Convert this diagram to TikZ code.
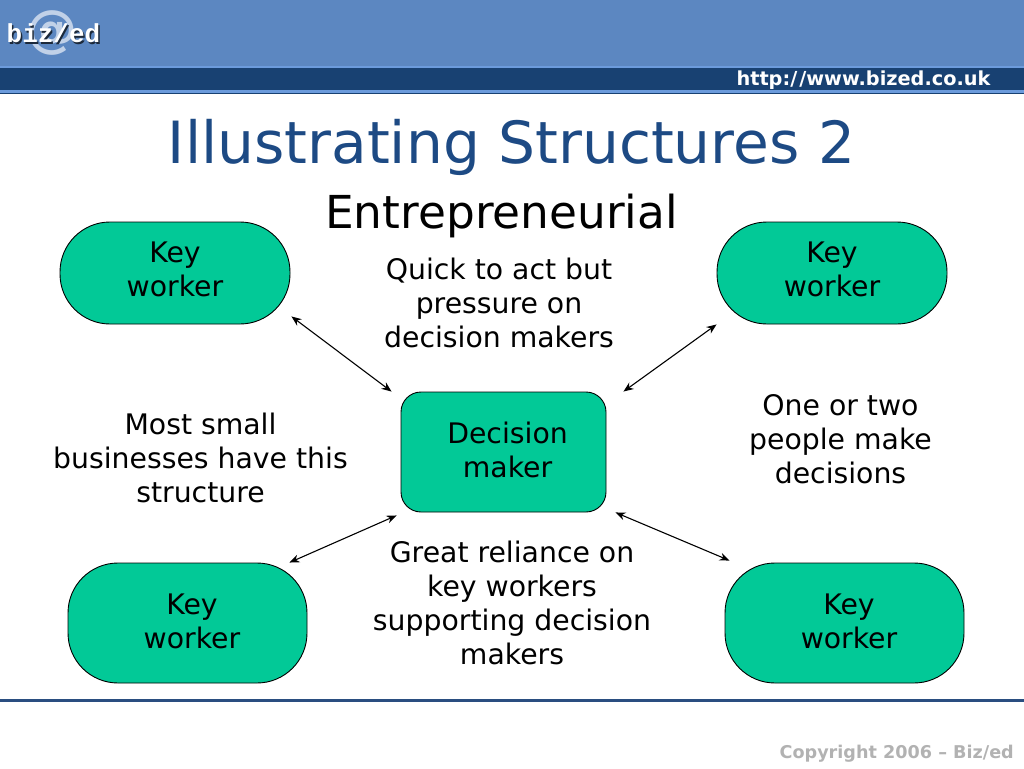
\documentclass[tikz,border=0pt]{standalone}
\usepackage{fontspec}
\setmainfont{DejaVu Sans}
\newfontfamily\logofont{Liberation Mono}
\usetikzlibrary{arrows.meta}
\definecolor{headblue}{HTML}{5C87C1}
\definecolor{headdark}{HTML}{184172}
\definecolor{headline}{HTML}{6C9BDC}
\definecolor{titleblue}{HTML}{1D4A84}
\definecolor{rulecol}{HTML}{2A4E80}
\definecolor{nodegreen}{HTML}{02C997}
\tikzset{
  x=1pt,y=-1pt,
  kwbox/.style={draw=black,fill=nodegreen,line width=0.9pt,rounded corners=50pt,inner sep=0pt},
  dmbox/.style={draw=black,fill=nodegreen,line width=0.9pt,rounded corners=20pt,inner sep=0pt},
  body/.style={align=center,font=\fontsize{28.3}{34}\selectfont,text=black,inner sep=0pt},
  arr/.style={{Stealth[length=10pt,width=8pt]}-{Stealth[length=10pt,width=8pt]},line width=1.1pt,black}
}
\begin{document}
\begin{tikzpicture}
\useasboundingbox (0,0) rectangle (1024,768);
\fill[white] (0,0) rectangle (1024,768);
% header
\fill[headblue] (0,0) rectangle (1024,66);
\fill[headline] (0,66) rectangle (1024,68);
\fill[headdark] (0,68) rectangle (1024,90);
\fill[headline] (0,90) rectangle (1024,92.5);
\fill[headdark] (0,92.5) rectangle (1024,94);
\node[font=\fontsize{51}{51}\selectfont\bfseries,text=white!62!headblue,inner sep=0pt] (at) at (52.5,33) {@};
\node[font=\logofont\bfseries\fontsize{26}{26}\selectfont,text=black!70!headblue,inner sep=0pt] (logoshadow) at (55,35) {biz/ed};
\node[font=\logofont\bfseries\fontsize{26}{26}\selectfont,text=white,inner sep=0pt] (logo) at (53.5,33) {biz/ed};
\node[font=\bfseries\fontsize{19.3}{20}\selectfont,text=white,inner sep=0pt] (url) at (863.5,80) {http:/\kern2pt/www.bized.co.uk};
% titles
\node[font=\fontsize{58.2}{60}\selectfont,text=titleblue,inner sep=0pt] (title) at (511.5,147) {Illustrating Structures 2};
\node[font=\fontsize{45.4}{48}\selectfont,text=black,inner sep=0pt] (sub) at (501.5,216) {Entrepreneurial};
% boxes
\node[kwbox,minimum width=230pt,minimum height=102pt] (k1) at (175,273) {};
\node[kwbox,minimum width=230pt,minimum height=102pt] (k2) at (832,273) {};
\node[kwbox,minimum width=239pt,minimum height=120pt] (k3) at (187.5,623) {};
\node[kwbox,minimum width=239pt,minimum height=120pt] (k4) at (844.5,623) {};
\node[dmbox,minimum width=205pt,minimum height=120pt] (d) at (503.5,452) {};
% box labels
\node[body] (k1t) at (175,269) {Key\\worker};
\node[body] (k2t) at (832,269) {Key\\worker};
\node[body] (k3t) at (192,621) {Key\\worker};
\node[body] (k4t) at (849,621) {Key\\worker};
\node[body] (dt) at (507.5,450) {Decision\\maker};
% free texts
\node[body] (t1) at (499,303) {Quick to act but\\pressure on\\decision makers};
\node[body] (t2) at (200.5,458) {Most small\\businesses have this\\structure};
\node[body] (t3) at (840.5,439.5) {One or two\\people make\\decisions};
\node[body] (t4) at (512,603) {Great reliance on\\key workers\\supporting decision\\makers};
% connectors
\draw[arr] ([shift={(1,-8)}]k1.south east) -- ([shift={(-9,0)}]d.north west);
\draw[arr] (k2.south west) -- ([shift={(17,0)}]d.north east);
\draw[arr] ([shift={(-18,0)}]k3.north east) -- ([shift={(-4,3)}]d.south west);
\draw[arr] ([shift={(5,-2)}]k4.north west) -- ([shift={(9,0)}]d.south east);
% footer
\fill[rulecol] (0,698.5) rectangle (1024,701.5);
\node[font=\bfseries\fontsize{17.6}{20}\selectfont,text=black!30,anchor=east,inner sep=0pt] (copy) at (1014,754) {Copyright 2006 – Biz/ed};
\end{tikzpicture}
\end{document}
